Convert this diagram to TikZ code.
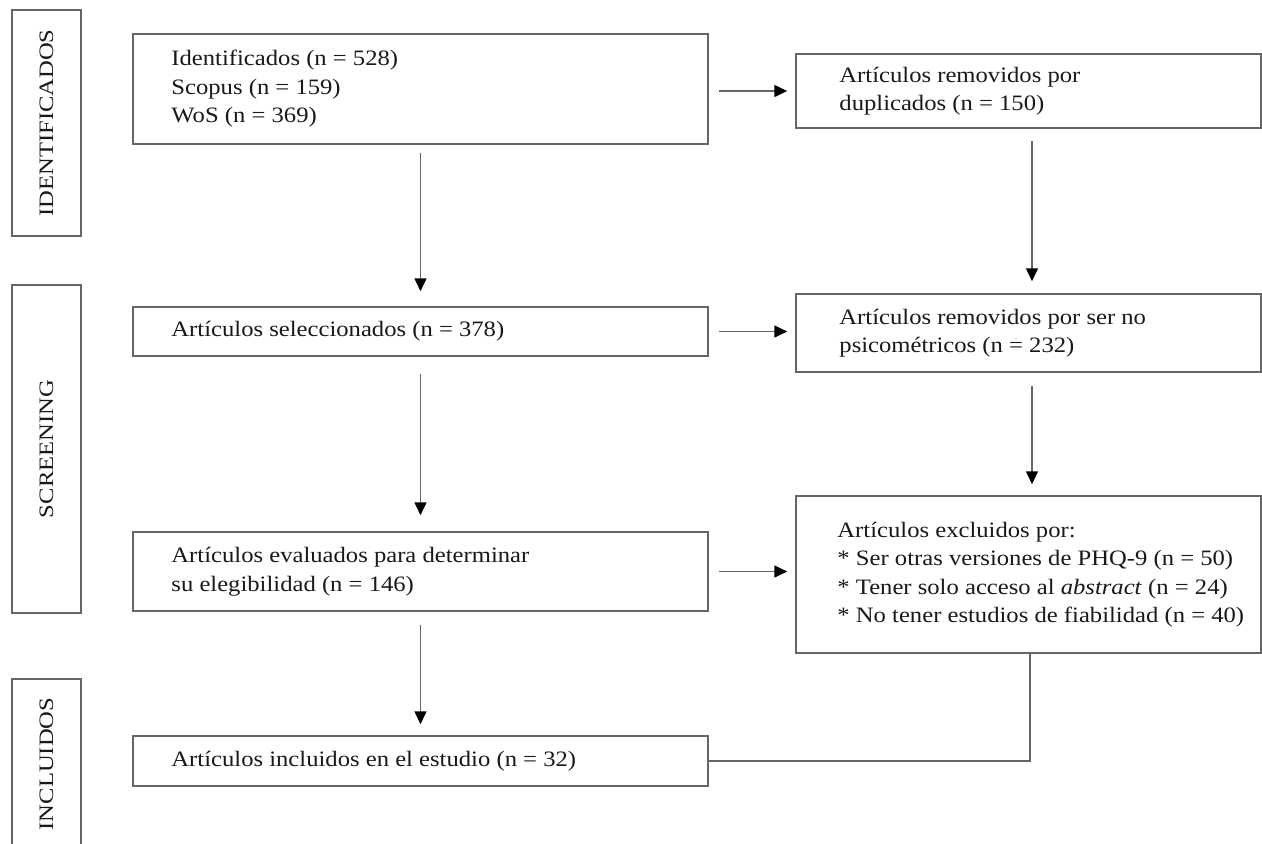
\documentclass[tikz,border=0pt]{standalone}
\usepackage{fontspec}
\setmainfont{Liberation Serif}[FakeStretch=1.12]
\newfontfamily\fasefont{Liberation Serif}[FakeStretch=1.2]
\usetikzlibrary{arrows.meta,positioning}

\tikzset{
  caja/.style={draw=black!60, line width=1.5pt, fill=white, minimum width=575pt, inner sep=0pt},
  cajader/.style={caja, minimum width=465pt},
  fase/.style={draw=black!60, line width=1.5pt, rotate=90, minimum height=69pt, inner sep=0pt,
    font=\fasefont\fontsize{20.5}{24}\selectfont, text=black!90},
  txt/.style={align=left, inner sep=0pt, font=\fontsize{22}{28.5}\selectfont, text=black!90},
  flecha/.style={draw=black!60, line width=1.5pt, -{Triangle[black,length=13pt,width=12pt]}},
  linea/.style={draw=black!60, line width=1.5pt}
}

\begin{document}
\begin{tikzpicture}[x=1pt,y=-1pt]
\useasboundingbox (0,0) rectangle (1262,844);
% fases
\node[fase, minimum width=226pt] (fid) at (46.5,123) {IDENTIFICADOS};
\node[fase, minimum width=328pt] (fsc) at (46.5,449) {SCREENING};
\node[fase, minimum width=170pt] (fin) at (46.5,764) {INCLUIDOS};

% cajas
\node[caja, minimum height=110pt] (idf) at (420.5,89) {};
\node[cajader, minimum height=74pt] (dup) at (1028.5,91) {};
\node[caja, minimum height=49pt] (sel) at (420.5,331.5) {};
\node[cajader, minimum height=78pt] (psi) at (1028.5,333) {};
\node[caja, minimum height=79pt] (eva) at (420.5,571.5) {};
\node[cajader, minimum height=157pt] (exc) at (1028.5,574.5) {};
\node[caja, minimum height=50pt] (inc) at (420.5,761) {};

% textos
\node[txt, right=39pt of idf.west] (idft) {Identificados (n = 528)\\Scopus (n = 159)\\WoS (n = 369)};
\node[txt, right=44pt of dup.west] (dupt) {Artículos removidos por\\duplicados (n = 150)};
\node[txt, right=39pt of sel.west] (selt) {Artículos seleccionados (n = 378)};
\node[txt, right=44pt of psi.west] (psit) {Artículos removidos por ser no\\psicométricos (n = 232)};
\node[txt, right=39pt of eva.west] (evat) {Artículos evaluados para determinar\\su elegibilidad (n = 146)};
\node[txt, right=42pt of exc.west] (exct) {Artículos excluidos por:\\* Ser otras versiones de PHQ-9 (n = 50)\\* Tener solo acceso al \textit{abstract} (n = 24)\\* No tener estudios de fiabilidad (n = 40)};
\node[txt, right=39pt of inc.west] (inct) {Artículos incluidos en el estudio (n = 32)};

% flechas
\draw[flecha, shorten <=8pt, shorten >=15pt] (idf) -- (sel);
\draw[flecha, shorten <=17pt, shorten >=16pt] (sel) -- (eva);
\draw[flecha, shorten <=13pt, shorten >=11pt] (eva) -- (inc);
\draw[flecha, shorten <=12pt, shorten >=12pt] ([xshift=3.5pt]dup.south) -- ([xshift=3.5pt]psi.north);
\draw[flecha, shorten <=13pt, shorten >=11pt] ([xshift=3.5pt]psi.south) -- ([xshift=3.5pt]exc.north);
\draw[flecha, shorten <=10pt, shorten >=8pt] (idf.east |- dup.west) -- (dup.west);
\draw[flecha, shorten <=10pt, shorten >=8pt] (sel.east) -- (sel.east -| psi.west);
\draw[flecha, shorten <=10pt, shorten >=8pt] (eva.east) -- (eva.east -| exc.west);
\draw[linea] ([xshift=1.5pt]exc.south) |- (inc.east);
\end{tikzpicture}
\end{document}
